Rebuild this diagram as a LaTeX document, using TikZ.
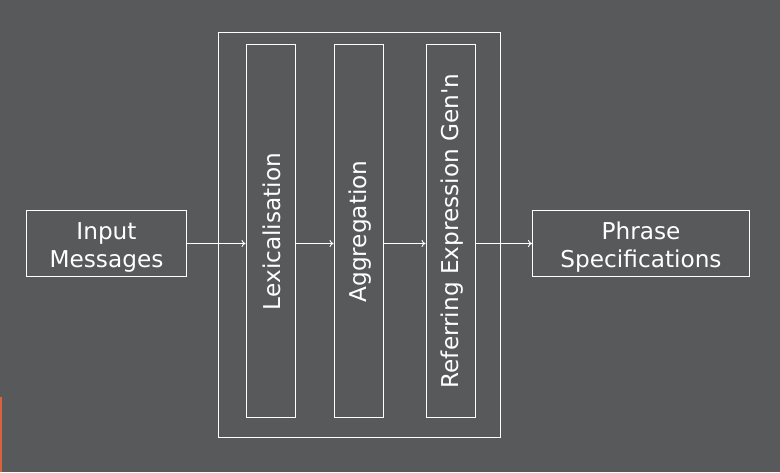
\documentclass[tikz,border=0pt]{standalone}
\usepackage{fontspec}
\setmainfont{DejaVu Sans}
\usetikzlibrary{arrows.meta}
\definecolor{bg}{HTML}{58595B}
\definecolor{accent}{HTML}{D9623F}
\begin{document}
\begin{tikzpicture}[x=1pt,y=-1pt,
  box/.style={draw=white,line width=1pt},
  lbl/.style={text=white,font=\fontsize{23.2pt}{28pt}\selectfont,align=center,inner sep=0pt},
  stage/.style={box,minimum width=49pt,minimum height=373pt,inner sep=0pt},
  flow/.style={draw=white,line width=0.9pt,-{To[length=4pt,width=7pt]}}]
\fill[bg] (0,0) rectangle (780,472);
\useasboundingbox (0,0) rectangle (780,472);
\fill[accent] (0,397) rectangle (2,472);
\draw[box] (218,32.5) rectangle (500,437.5);
\node[box,minimum width=160pt,minimum height=66pt,inner sep=0pt] (in) at (106.5,243.5) {};
\node[lbl] (intext) at (106.5,247.5) {Input\\Messages};
\node[box,minimum width=217pt,minimum height=66pt,inner sep=0pt] (out) at (641,243.5) {};
\node[lbl] (outtext) at (641,247.5) {Phrase\\Specifications};
\node[stage] (lex) at (270.5,230.5) {};
\node[stage] (agg) at (358.5,230.5) {};
\node[stage] (ref) at (450.5,230.5) {};
\node[lbl,rotate=90] (lextext) at (272,231.5) {Lexicalisation};
\node[lbl,rotate=90] (aggtext) at (360,231.5) {Aggregation};
\node[lbl,rotate=90] (reftext) at (452,231) {Referring Expression Gen\textquotesingle n};
\draw[flow] (in.east|-0,243.5) -- (lex.west|-0,243.5);
\draw[flow] (lex.east|-0,243.5) -- (agg.west|-0,243.5);
\draw[flow] (agg.east|-0,243.5) -- (ref.west|-0,243.5);
\draw[flow] (ref.east|-0,243.5) -- (out.west|-0,243.5);
\end{tikzpicture}
\end{document}
